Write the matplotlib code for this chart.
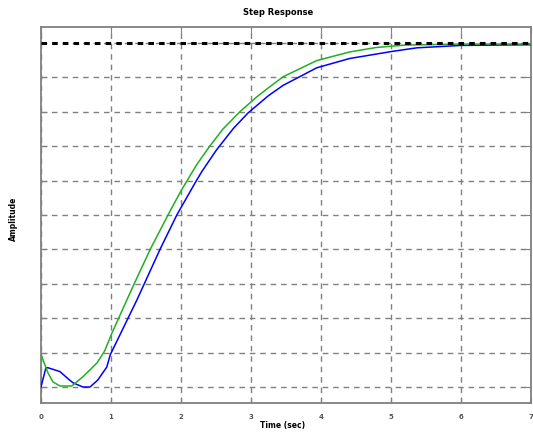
"""Step response of two systems with the steady-state reference level"""
import matplotlib
matplotlib.use("Agg")
import matplotlib.pyplot as plt

# time (s) and amplitude read along each response
t_blue = [0, 0.07, 0.1, 0.27, 0.41, 0.46, 0.6, 0.7, 0.81, 0.94, 0.99, 1.1, 1.37,
          1.7, 1.94, 2.22, 2.3, 2.51, 2.75, 2.96, 3.25, 3.46, 3.94, 4.41,
          5.03, 5.37, 6.0, 7.0]
y_blue = [0, 0.056, 0.056, 0.045, 0.02, 0.012, 0, 0, 0.02, 0.058, 0.094, 0.14,
          0.253, 0.40, 0.50, 0.60, 0.627, 0.69, 0.752, 0.797, 0.847, 0.877,
          0.928, 0.955, 0.976, 0.986, 0.993, 0.995]

t_green = [0, 0.03, 0.1, 0.17, 0.27, 0.44, 0.6, 0.8, 0.91, 1.01, 1.22, 1.32,
           1.56, 1.84, 2.0, 2.22, 2.41, 2.6, 2.84, 3.08, 3.25, 3.46, 3.94, 4.41,
           4.79, 5.2, 6.0, 7.0]
y_green = [0.096, 0.078, 0.041, 0.015, 0.003, 0.003, 0.03, 0.07, 0.105, 0.155,
           0.25, 0.295, 0.40, 0.51, 0.57, 0.645, 0.70, 0.75, 0.80, 0.843, 0.87,
           0.902, 0.949, 0.974, 0.987, 0.994, 0.997, 0.997]

final_value = 1.0
x_ticks = [0, 1, 2, 3, 4, 5, 6, 7]
y_ticks = [0.0, 0.1, 0.2, 0.3, 0.4, 0.5, 0.6, 0.7, 0.8, 0.9, 1.0]


def main():
    fig = plt.figure(figsize=(5.33, 4.48), dpi=100)
    ax = fig.add_axes([0.0769, 0.1004, 0.9193, 0.8393])

    ax.plot(t_blue, y_blue, color="#0000ff", lw=1.1, zorder=3)
    ax.plot(t_green, y_green, color="#20b020", lw=1.1, zorder=3)
    ax.axhline(final_value, color="black", lw=2.2, ls=(0, (1.8, 1.7)), zorder=4)

    ax.set_xlim(0, 7)
    ax.set_ylim(-0.0465, 1.0465)
    ax.set_xticks(x_ticks)
    ax.set_yticks(y_ticks)
    ax.set_yticklabels([])
    ax.grid(True, color="#808080", ls=(0, (4, 3.5)), lw=1.0)
    ax.tick_params(direction="in", length=4, color="#808080",
                   top=True, right=True, labelsize=5, pad=8)
    for lab in ax.get_xticklabels():
        lab.set_fontweight("bold")
        lab.set_color("#555555")
    for sp in ax.spines.values():
        sp.set_color("#808080")
        sp.set_linewidth(1.3)

    fig.text(0.522, 0.971, "Step Response", ha="center", va="center",
             fontsize=6, fontweight="bold")
    fig.text(0.531, 0.051, "Time (sec)", ha="center", va="center",
             fontsize=5.5, fontweight="bold")
    fig.text(0.026, 0.511, "Amplitude", ha="center", va="center",
             fontsize=5.5, fontweight="bold", rotation=90)

    fig.savefig("out.png", dpi=100)


if __name__ == "__main__":
    main()
